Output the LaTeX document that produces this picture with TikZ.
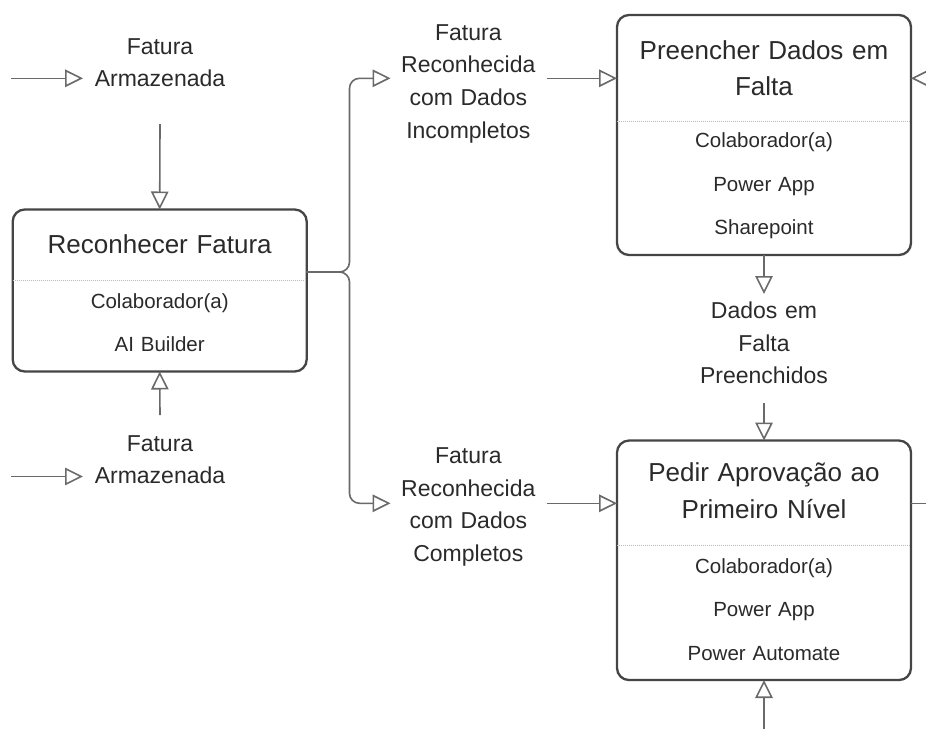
\documentclass[tikz,border=0pt]{standalone}
\usepackage{fontspec}
\setmainfont{Liberation Sans}
\usetikzlibrary{arrows.meta}
\definecolor{txt}{HTML}{2A2A2A}
\definecolor{edge}{HTML}{454545}
\definecolor{wire}{HTML}{6A6A6A}
\definecolor{sep}{HTML}{BBBBBB}

\begin{document}
\begin{tikzpicture}[x=1pt,y=-1pt,
  every node/.style={text=txt, inner sep=0pt, outer sep=0pt},
  actbox/.style={draw=edge, line width=2.3pt, rounded corners=12pt, minimum width=294pt, fill=white},
  boxtitle/.style={font=\fontsize{26}{36.5}\selectfont, align=center, anchor=base, text width=290pt},
  boxitems/.style={font=\fontsize{20.5}{43.4}\selectfont, align=center, anchor=base, text width=290pt},
  flowlabel/.style={font=\fontsize{23}{32.6}\selectfont, align=center, anchor=base, text width=170pt},
  wire/.style={draw=wire, line width=1.6pt},
  flow/.style={wire, -{Triangle[open, length=18pt, width=17.5pt]}},
  divider/.style={draw=sep, line width=0.9pt, dash pattern=on 1pt off 1pt}
]
\useasboundingbox (0,0) rectangle (926,729);

% activity boxes
\node[actbox, minimum height=162pt] (rec) at (159.7,290.5) {};
\node[actbox, minimum height=240pt] (pre) at (764,135) {};
\node[actbox, minimum height=239.5pt] (ped) at (764,560.3) {};

% dotted dividers between title and resources
\draw[divider] (rec.west |- 0,280.7) -- (rec.east |- 0,280.7);
\draw[divider] (pre.west |- 0,121) -- (pre.east |- 0,121);
\draw[divider] (ped.west |- 0,545.7) -- (ped.east |- 0,545.7);

% box titles
\node[boxtitle] (rect) at (159.7,253.3) {Reconhecer Fatura};
\node[boxtitle] (pret) at (764,59.3) {Preencher Dados em\\Falta};
\node[boxtitle] (pedt) at (764,481.7) {Pedir Aprovação ao\\Primeiro Nível};

% resources
\node[boxitems] (reci) at (159.7,308) {Colaborador(a)\\AI Builder};
\node[boxitems] (prei) at (764,147.7) {Colaborador(a)\\Power App\\Sharepoint};
\node[boxitems] (pedi) at (764,573.3) {Colaborador(a)\\Power App\\Power Automate};

% flow objects
\node[flowlabel] (fa1) at (160,54.3) {Fatura\\Armazenada};
\node[flowlabel] (fa2) at (160,451) {Fatura\\Armazenada};
\node[flowlabel] (ri) at (468.3,40.3) {Fatura\\Reconhecida\\com Dados\\Incompletos};
\node[flowlabel] (rc) at (468.3,463.5) {Fatura\\Reconhecida\\com Dados\\Completos};
\node[flowlabel] (df) at (764,318.5) {Dados em\\Falta\\Preenchidos};

% connector end points
\coordinate (fa1in) at (11,78.3);
\coordinate (fa1tip) at (83,78.3);
\coordinate (fa1out) at (160,124);
\coordinate (fa2in) at (11,476.5);
\coordinate (fa2tip) at (83,476.5);
\coordinate (fa2out) at (160,415);
\coordinate (split) at (349.5,272);
\coordinate (ritip) at (390.5,78.3);
\coordinate (rctip) at (390.5,503.3);
\coordinate (riout) at (546.7,78.3);
\coordinate (rcout) at (546.7,503.3);
\coordinate (prefeed) at (926,78.3);
\coordinate (pedout) at (926,503.3);
\coordinate (dftip) at (764,294);
\coordinate (dfout) at (764,403);
\coordinate (pedfeed) at (764,729);

% connectors
\draw[flow] (fa1in) -- (fa1tip);
\draw[flow] (fa1out) -- (rec.north);
\draw[flow] (fa2in) -- (fa2tip);
\draw[flow] (fa2out) -- (rec.south);
\draw[flow, rounded corners=10pt] (rec.east |- split) -- (split) -- (split |- ritip) -- (ritip);
\draw[flow, rounded corners=10pt] (rec.east |- split) -- (split) -- (split |- rctip) -- (rctip);
\draw[flow] (riout) -- (pre.west |- riout);
\draw[flow] (rcout) -- (ped.west |- rcout);
\draw[flow] (prefeed) -- (pre.east |- prefeed);
\draw[wire] (ped.east |- pedout) -- (pedout);
\draw[flow] (pre.south) -- (dftip);
\draw[flow] (dfout) -- (ped.north);
\draw[flow] (pedfeed) -- (ped.south);
\end{tikzpicture}
\end{document}
